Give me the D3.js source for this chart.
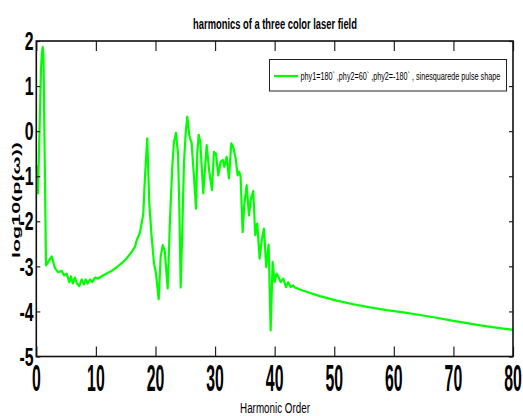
<!DOCTYPE html>
<html>
<head>
<meta charset="utf-8">
<script src="https://cdn.jsdelivr.net/npm/d3@7"></script>
<style>
  body { margin: 0; background: #fff; }
  svg { display: block; font-family: "Liberation Sans", Arial, sans-serif; }
</style>
</head>
<body>
<div id="chart"></div>
<script>
// harmonic order (x) and log10 of the power spectrum (y)
var harmonicOrder = [
    0.07, 0.29, 0.79, 0.95, 1.07, 1.2, 1.63, 2.58, 3.14, 3.64, 4.26, 4.65, 5.1, 5.54, 5.82,
    6.11, 6.49, 6.78, 7.21, 7.62, 8.0, 8.29, 8.62, 9.01, 9.4, 9.85, 10.4, 10.97, 11.81,
    12.65, 13.49, 14.33, 15.17, 16.01, 16.56, 16.85, 17.4, 17.95, 18.24, 18.62, 18.96,
    19.36, 19.75, 20.08, 20.54, 20.87, 21.21, 21.54, 22.05, 22.43, 22.82, 23.1, 23.44,
    23.78, 23.99, 24.23, 24.5, 24.78, 25.07, 25.34, 25.67, 26.07, 26.46, 26.8, 27.01,
    27.25, 27.52, 28.02, 28.59, 29.03, 29.48, 29.81, 30.15, 30.54, 30.94, 31.28, 31.54,
    31.95, 32.33, 32.72, 33.05, 33.46, 33.79, 34.06, 34.29, 34.63, 34.9, 35.3, 35.69,
    36.02, 36.41, 36.74, 37.08, 37.48, 37.87, 38.2, 38.59, 38.99, 39.33, 39.66, 40.0,
    40.34, 40.67, 41.0, 41.44, 41.9, 42.28, 42.68, 43.12, 43.4, 44.8, 47.6, 50.4, 53.2,
    56.0, 58.8, 61.6, 64.4, 67.2, 70.0, 72.8, 75.6, 78.4, 80
];
var logPower = [
    -0.76, -1.38, 1.4, 1.75, 1.87, 1.7, -2.98, -2.78, -3.04, -3.13, -3.1, -3.2, -3.16, -3.35, -3.22,
    -3.38, -3.25, -3.37, -3.44, -3.29, -3.4, -3.29, -3.38, -3.29, -3.35, -3.25, -3.27, -3.22, -3.16,
    -3.1, -3.02, -2.93, -2.82, -2.68, -2.57, -2.42, -2.25, -1.84, -1.01, -0.16, -1.6,
    -2.35, -2.93, -3.16, -3.73, -2.79, -2.53, -2.64, -3.49, -1.98, -0.79, -0.24, -0.04,
    -0.5, -1.6, -3.47, -2.2, -0.71, -0.05, 0.32, -0.09, -0.27, -1.01, -1.72, -0.5,
    -0.08, -0.24, -1.38, -0.31, -0.9, -1.31, -0.46, -0.5, -0.98, -0.68, -0.64, -0.79,
    -0.57, -1.05, -0.27, -0.35, -0.61, -0.98, -0.9, -1.01, -2.24, -1.64, -1.2, -1.87,
    -1.5, -1.33, -2.31, -2.05, -2.83, -2.38, -2.16, -3.02, -2.52, -4.42, -2.9, -3.35,
    -3.16, -3.24, -3.35, -3.27, -3.46, -3.35, -3.46, -3.42, -3.47, -3.54, -3.66, -3.76, -3.84,
    -3.91, -3.97, -4.02, -4.08, -4.14, -4.21, -4.27, -4.33, -4.38, -4.41
];
var xTicks = [0, 10, 20, 30, 40, 50, 60, 70, 80];
var yTicks = [2, 1, 0, -1, -2, -3, -4, -5];

var titleText = "harmonics of a three color laser field";
var xLabel = "Harmonic Order";
var yLabel = "log10(p(\u03c9))";
var legendText = "phy1=180` ,phy2=60` ,phy2=-180` , sinesquarede pulse shape";

var width = 523, height = 416,
    margin = {top: 41, right: 10, bottom: 59.5, left: 36.3},
    green = "#00ff00";

var svg = d3.select("#chart").append("svg")
    .attr("width", width)
    .attr("height", height);

var x = d3.scaleLinear().domain([0, 80]).range([margin.left, width - margin.right]);
var y = d3.scaleLinear().domain([-5, 2]).range([height - margin.bottom, margin.top]);

var points = harmonicOrder.map(function(d, i) { return [d, logPower[i]]; });

// squeeze a text horizontally so it spans w pixels
var fitWidth = function(sel, px, py, w) {
    var len = sel.node().getComputedTextLength();
    sel.attr("transform", "translate(" + px + "," + py + ") scale(" + (w / len) + ",1)");
};

// the curve
svg.append("path")
    .datum(points)
    .attr("fill", "none")
    .attr("stroke", green)
    .attr("stroke-width", 2.2)
    .attr("stroke-linejoin", "round")
    .attr("d", d3.line().x(function(d) { return x(d[0]); }).y(function(d) { return y(d[1]); }));

// inward ticks on all four sides
var axes = [
    {axis: d3.axisBottom(x).tickValues(xTicks).tickSize(10), t: "translate(0," + y(2) + ")"},
    {axis: d3.axisTop(x).tickValues(xTicks).tickSize(10), t: "translate(0," + y(-5) + ")"},
    {axis: d3.axisRight(y).tickValues(yTicks).tickSize(4), t: "translate(" + x(0) + ",0)"},
    {axis: d3.axisLeft(y).tickValues(yTicks).tickSize(4), t: "translate(" + x(80) + ",0)"}
];
axes.forEach(function(a) {
    var g = svg.append("g").attr("transform", a.t).call(a.axis.tickFormat(""));
    g.select(".domain").remove();
    g.selectAll("line").attr("stroke", "#222").attr("stroke-width", 1.2);
});

// plot frame
svg.append("rect")
    .attr("x", x(0)).attr("y", y(2))
    .attr("width", x(80) - x(0)).attr("height", y(-5) - y(2))
    .attr("fill", "none").attr("stroke", "#111").attr("stroke-width", 1.6);

// tick labels, squeezed like the picture
svg.append("g").selectAll("text").data(yTicks).enter().append("text")
    .attr("transform", function(d) { return "translate(33.5," + y(d) + ") scale(0.62,1)"; })
    .attr("dy", "0.36em")
    .attr("text-anchor", "end")
    .attr("font-size", 25.5)
    .attr("font-weight", "bold")
    .text(function(d) { return d; });

svg.append("g").selectAll("text").data(xTicks).enter().append("text")
    .attr("transform", function(d) { return "translate(" + x(d) + ",378) scale(0.44,1)"; })
    .attr("dy", "0.36em")
    .attr("text-anchor", "middle")
    .attr("font-size", 36)
    .attr("font-weight", "bold")
    .text(function(d) { return d; });

// title and axis labels
svg.append("text")
    .attr("text-anchor", "middle")
    .attr("font-size", 15.5).attr("font-weight", "bold")
    .text(titleText)
    .call(fitWidth, 275, 28.5, 164);

svg.append("text")
    .attr("text-anchor", "middle")
    .attr("font-size", 15)
    .text(xLabel)
    .call(fitWidth, 275, 412.5, 70);

svg.append("text")
    .attr("transform", "translate(19.5,200) rotate(-90)")
    .attr("text-anchor", "middle")
    .attr("font-size", 11.5).attr("font-weight", "bold")
    .attr("textLength", 116).attr("lengthAdjust", "spacingAndGlyphs")
    .text(yLabel);

// legend
var legend = svg.append("g");
legend.append("rect")
    .attr("x", 269.5).attr("y", 59.5).attr("width", 237).attr("height", 31.5)
    .attr("fill", "#fff").attr("stroke", "#222").attr("stroke-width", 1);
legend.append("line")
    .attr("x1", 274).attr("x2", 298).attr("y1", 76).attr("y2", 76)
    .attr("stroke", green).attr("stroke-width", 2.2);
legend.append("text")
    .attr("font-size", 11)
    .text(legendText)
    .call(fitWidth, 300.5, 80, 200);
</script>
</body>
</html>
